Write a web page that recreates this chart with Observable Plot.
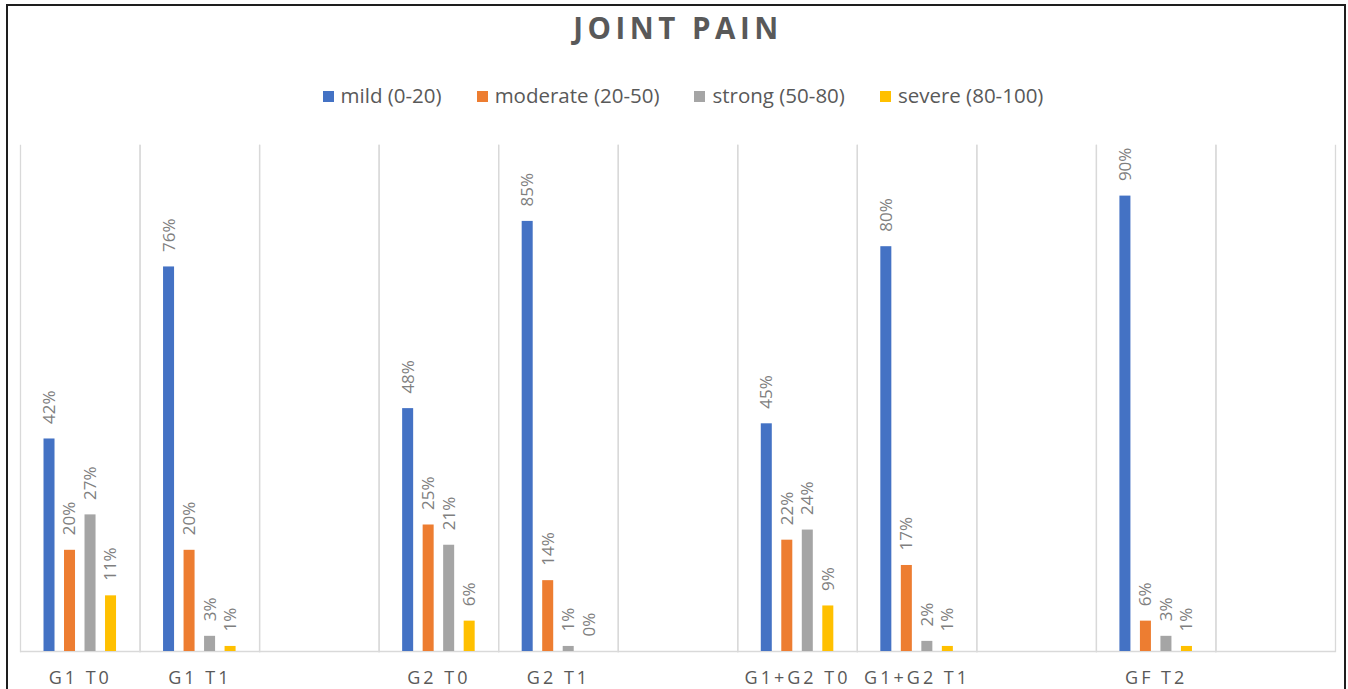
<!DOCTYPE html>
<html>
<head>
<meta charset="utf-8">
<script src="https://cdn.jsdelivr.net/npm/d3@7"></script>
<script src="https://cdn.jsdelivr.net/npm/@observablehq/plot@0.6"></script>
<style>
  html, body { margin: 0; padding: 0; background: #fff; overflow: hidden; width: 1348px; height: 689px; }
  #frame { position: absolute; left: 6px; top: 4px; width: 1336px; height: 800px; border: 2px solid #1e1e1e; box-sizing: content-box; }
  #title { position: absolute; left: 0; top: 13px; width: 1356px; text-align: center; font-family: "Open Sans", sans-serif; font-weight: 700; font-size: 29.5px; line-height: 29.5px; color: #595959; letter-spacing: 4.5px; }
  #legend { position: absolute; left: 0; top: 85px; width: 1348px; padding-left: 18px; box-sizing: border-box; display: flex; justify-content: center; gap: 35px; font-family: "Open Sans", sans-serif; font-size: 20.5px; line-height: 20.5px; color: #595959; }
  #legend .item { display: flex; align-items: center; }
  #legend .sw { width: 11px; height: 11px; margin-right: 7px; margin-top: 3px; }
  #chart { position: absolute; left: 0; top: 130px; }
  #chart g[aria-label="fx-axis tick label"] text { letter-spacing: 3px; }
</style>
</head>
<body>
<div id="frame"></div>
<div id="title">JOINT PAIN</div>
<div id="legend"></div>
<div id="chart"></div>
<script>
// ---- data ----
const categories = ["G1 T0", "G1 T1", "G2 T0", "G2 T1", "G1+G2 T0", "G1+G2 T1", "GF T2"];
const slots = ["G1 T0", "G1 T1", "", "G2 T0", "G2 T1", " ", "G1+G2 T0", "G1+G2 T1", "  ", "GF T2", "   "];
const series = ["mild (0-20)", "moderate (20-50)", "strong (50-80)", "severe (80-100)"];
const mild     = [42, 76, 48, 85, 45, 80, 90];
const moderate = [20, 20, 25, 14, 22, 17, 6];
const strong   = [27, 3, 21, 1, 24, 2, 3];
const severe   = [11, 1, 6, 0, 9, 1, 1];
const colors = ["#4472c4", "#ed7d31", "#a5a5a5", "#ffc000"];

const valuesBySeries = [mild, moderate, strong, severe];
const rows = categories.flatMap((c, i) =>
  series.map((s, j) => ({category: c, series: s, value: valuesBySeries[j][i]}))
);

// legend
const legend = document.getElementById("legend");
series.forEach((s, j) => {
  const item = document.createElement("div");
  item.className = "item";
  const sw = document.createElement("span");
  sw.className = "sw";
  sw.style.background = colors[j];
  const t = document.createElement("span");
  t.textContent = s;
  item.appendChild(sw);
  item.appendChild(t);
  legend.appendChild(item);
});

const chart = Plot.plot({
  width: 1348,
  height: 559,
  marginTop: 15,
  marginBottom: 38,
  marginLeft: 20,
  marginRight: 13,
  style: {fontFamily: "Open Sans, sans-serif", fontSize: "18px", color: "#595959", overflow: "visible", background: "transparent"},
  fx: {domain: slots, padding: 0, round: false, label: null, axis: "bottom", tickSize: 0, tickPadding: 20},
  x: {domain: series, paddingInner: 0.463, paddingOuter: 1.146, round: false, axis: null},
  y: {domain: [0, 100], axis: null},
  color: {domain: series, range: colors},
  marks: [
    Plot.ruleY(slots, {fx: d => d, y: () => 0, stroke: "#d9d9d9", strokeWidth: 1.3}),
    Plot.frame({anchor: "left", stroke: "#d9d9d9", strokeWidth: 1.3}),
    Plot.frame({anchor: "right", stroke: "#d9d9d9", strokeWidth: 1.3}),
    Plot.barY(rows, {fx: "category", x: "series", y: "value", fill: "series"}),
    Plot.text(rows, {
      fx: "category", x: "series", y: "value",
      text: d => d.value + "%",
      rotate: -90, textAnchor: "start", dy: -15,
      fill: "#7f7f7f", fontSize: 17
    })
  ]
});
document.getElementById("chart").appendChild(chart);
</script>
</body>
</html>
